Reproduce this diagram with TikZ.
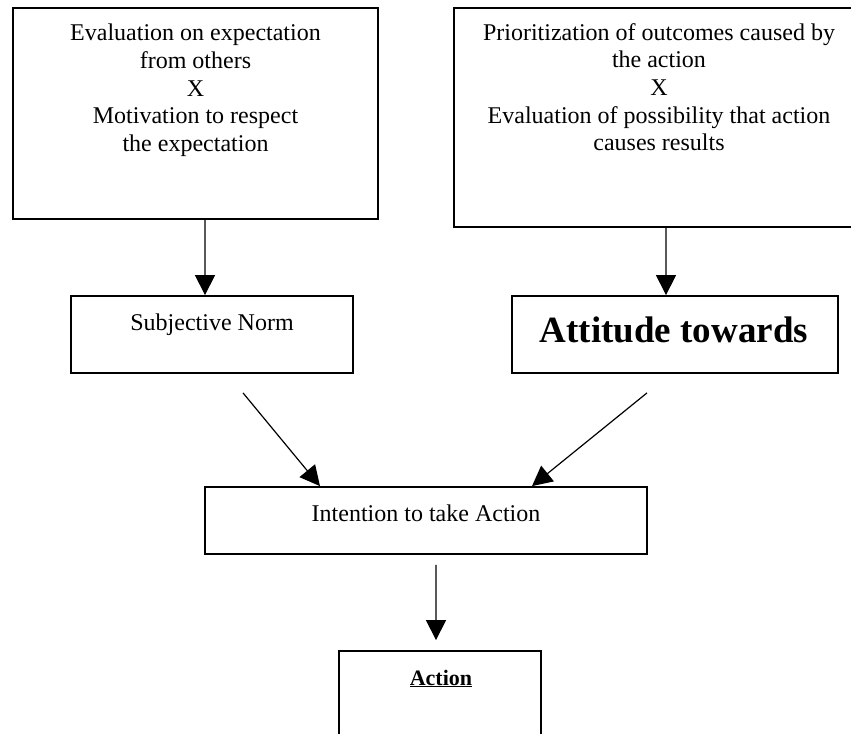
\documentclass[tikz,border=0pt]{standalone}
\usepackage{fontspec}
\setmainfont{Liberation Serif}
\usetikzlibrary{arrows.meta}

\tikzset{
  box/.style={draw=black, line width=1.8bp, inner sep=0pt, rectangle},
  arr/.style={line width=1.2bp, -{Triangle[length=20bp,width=20bp]}},
  txt/.style={inner sep=0pt, font=\fontsize{24bp}{27.7bp}\selectfont},
}

\begin{document}
\begin{tikzpicture}[x=1bp, y=-1bp]
  \useasboundingbox (0,0) rectangle (851,734);
  \clip (0,0) rectangle (851,734);

  % boxes
  \node[box, minimum width=365bp, minimum height=211bp] (beliefs)  at (195.5,113.5) {};
  \node[box, minimum width=412bp, minimum height=219bp] (outcomes) at (660,117.5) {};
  \node[box, minimum width=282bp, minimum height=77bp]  (norm)     at (212,334.5) {};
  \node[box, minimum width=326bp, minimum height=77bp]  (attitude) at (675,334.5) {};
  \node[box, minimum width=442bp, minimum height=67bp]  (intent)   at (426,520.5) {};
  \node[box, minimum width=202bp, minimum height=119bp] (action)   at (440,710.5) {};

  % texts (multi-line nodes are placed by the baseline of their last line)
  \node[txt, align=center, anchor=base] (tbeliefs) at (195.5,151.5)
    {Evaluation on expectation\\from others\\X\\Motivation to respect\\the expectation};
  \node[txt, align=center, anchor=base] (toutcomes) at (659,151)
    {Prioritization of outcomes caused by\\the action\\X\\Evaluation of possibility that action\\causes results};
  \node[txt, anchor=base] (tnorm) at (212,330) {Subjective Norm};
  \node[inner sep=0pt, anchor=base, font=\fontsize{37bp}{42bp}\selectfont\bfseries] (tattitude) at (674,342) {Attitude towards};
  \node[txt, anchor=base] (tintent) at (426,521) {Intention to take Action};
  \node[inner sep=0pt, anchor=base, font=\fontsize{22bp}{26bp}\selectfont\bfseries] (taction) at (441,685) {\underline{Action}};

  % connectors
  \draw[arr] ([xshift=9.5bp]beliefs.south) -- ([xshift=-7bp]norm.north);
  \draw[arr] ([xshift=6bp]outcomes.south) -- ([xshift=-9bp]attitude.north);
  \draw[arr] ([xshift=31bp,yshift=-19bp]norm.south) -- ([xshift=-106bp]intent.north);
  \draw[arr] ([xshift=-28bp,yshift=-19bp]attitude.south) -- ([xshift=106bp]intent.north);
  \draw[arr] ([xshift=10bp,yshift=-10bp]intent.south) -- ([xshift=-4bp,yshift=10bp]action.north);
\end{tikzpicture}
\end{document}
